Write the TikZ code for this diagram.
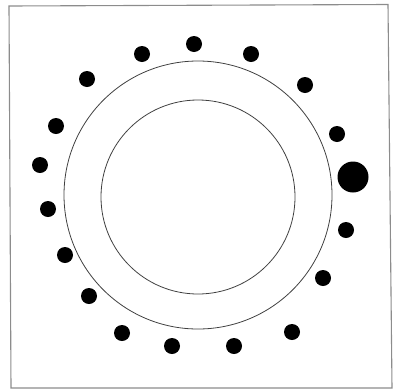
\documentclass[tikz,border=0pt]{standalone}
\begin{document}
\begin{tikzpicture}[x=1pt,y=-1pt,
  frameline/.style={draw=black!45,line width=1.1pt},
  ring/.style={draw=black!75,line width=0.8pt},
  dot/.style={fill=black}]
\useasboundingbox (0,0) rectangle (393,389);
\draw[frameline] (9,6) -- (388,4.5) -- (392,388) -- (11,388) -- cycle;
\coordinate (c) at (198,196);
\draw[ring] (198,195) circle[radius=134];
\draw[ring] (198,197) circle[radius=97];
\foreach \p [count=\i] in {(142,54),(194,44),(251,54),(305,85),(337,134),(346,230),(323,278),(292,332),(234,346),(172,346),(122,333),(89,296),(65,255),(48,209),(40,165),(56,126),(87,79)}
  \fill[dot] \p circle[radius=8];
\fill[dot] (353,177) circle[radius=15.5];
\end{tikzpicture}
\end{document}
